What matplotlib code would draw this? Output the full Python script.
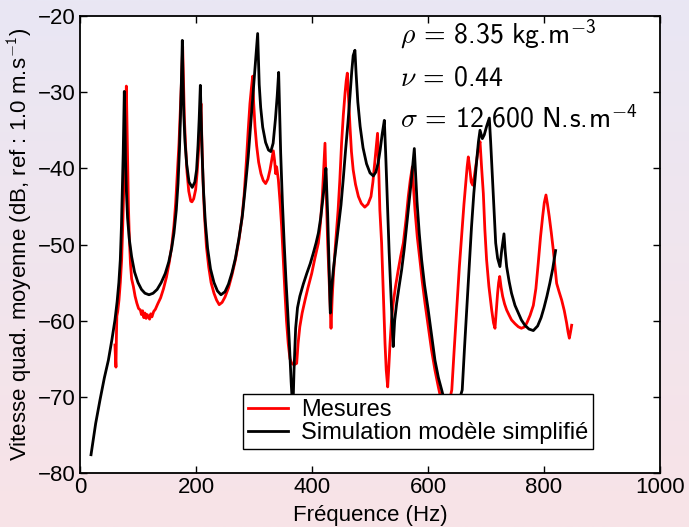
import numpy as np
import matplotlib
matplotlib.use("Agg")
import matplotlib.pyplot as plt

# simulation (modele simplifie): frequency (Hz) / level (dB)
sim_f = [19, 27, 34.5, 42, 48.9, 55, 60.3, 64, 67, 69.5, 71.5, 73, 74.5, 75.5, 76.4,
         77.5, 78.5, 80, 82, 85, 89, 94, 100, 106, 112, 119, 126, 133, 140, 147,
         153, 158, 162, 166, 169, 171.5, 173.5, 175, 176.4, 177.5, 179, 181, 184,
         188, 193.5, 198, 201, 203.5, 205.5, 207.5, 208.8, 210.5, 213, 216, 220,
         225, 231, 237, 243, 250, 256, 262, 268, 274, 280, 285, 290, 294, 298,
         301.5, 304, 306.3, 307.5, 309, 311.5, 315, 320, 325, 329, 333, 337, 340,
         342.5, 344, 346, 349, 352, 355, 358, 361, 364, 367, 369, 371.8, 375, 379,
         385, 391, 397, 402, 407, 411, 415, 418, 421, 424, 427, 429.5, 431.6,
         433.5, 436.8, 441, 445, 450, 454, 458, 462, 465.5, 468.5, 471, 474, 476,
         479, 483, 488, 494, 500, 505.7, 510, 514, 517.5, 521, 524.7, 527, 530,
         533, 536, 538, 540, 542.5, 546, 550, 554.6, 559, 563, 567, 570.7, 573.5,
         576.4, 578.5, 581, 585, 589, 594, 600, 606, 612, 618, 623.6, 640, 659,
         663, 666.7, 671, 675, 679, 684, 687, 689.7, 691.5, 693.7, 697, 701, 705.7,
         708, 711, 714, 716.7, 720, 724, 727, 731, 733, 735.6, 740, 744, 750,
         755.7, 761, 767, 774, 781.6, 789, 795, 800, 805, 810, 815, 820]
sim_db = [-77.6, -73.5, -70.4, -67.5, -65.2, -62.5, -59.9, -57.5, -55.0, -52.0,
          -47.5, -43.0, -38.0, -34.0, -29.9, -34.0, -39.0, -43.0, -46.5, -49.3,
          -51.6, -53.6, -55.0, -55.9, -56.4, -56.6, -56.4, -55.9, -55.0, -53.8,
          -52.3, -50.5, -48.5, -45.5, -42.0, -37.5, -32.5, -28.0, -23.2, -28.0,
          -33.0, -36.5, -39.5, -41.8, -42.5, -41.8, -40.2, -37.0, -33.5, -29.1,
          -33.0, -38.0, -43.0, -47.0, -50.5, -53.2, -55.0, -56.1, -56.6, -56.2,
          -55.2, -53.7, -51.8, -49.2, -46.2, -42.5, -38.5, -34.5, -30.5, -27.0,
          -24.5, -22.3, -25.5, -29.0, -32.0, -34.6, -36.6, -37.6, -37.8, -36.7,
          -33.5, -30.5, -27.4, -32.0, -38.0, -44.5, -49.8, -54.5, -58.6, -63.0,
          -68.0, -72.0, -66.5, -61.0, -58.3, -56.8, -55.2, -53.8, -52.5, -51.2,
          -49.8, -48.5, -46.5, -44.5, -42.5, -40.0, -46.0, -53.0, -59.0, -56.0,
          -53.3, -50.6, -48.1, -44.8, -41.3, -37.5, -34.0, -30.5, -27.3, -25.2,
          -24.5, -27.5, -31.3, -34.5, -37.3, -39.4, -40.6, -41.0, -40.5, -39.3,
          -37.6, -35.5, -33.7, -38.0, -44.5, -51.0, -56.4, -60.0, -63.4, -60.0,
          -57.7, -55.6, -53.3, -50.6, -47.7, -44.8, -42.0, -39.7, -37.4, -40.5,
          -44.3, -48.6, -52.0, -55.3, -58.4, -61.8, -65.2, -67.5, -69.1, -74.0,
          -69.1, -63.5, -58.6, -53.0, -47.7, -43.3, -38.9, -36.5, -35.0, -35.5,
          -36.1, -35.6, -34.5, -33.4, -36.5, -41.1, -45.8, -49.8, -51.8, -52.9,
          -50.8, -48.6, -50.8, -52.9, -54.9, -56.4, -58.0, -59.0, -59.9, -60.6,
          -61.1, -61.3, -60.7, -59.6, -58.3, -56.8, -55.1, -53.2, -50.8]

# mesures
mes_f = [60.3, 61.2, 62, 62.8, 63.5, 65, 67.2, 69.5, 71.8, 73.5, 75, 76.5, 78,
         79.9, 81, 82.2, 83.5, 85, 87, 89, 92, 95, 98, 101, 104, 106, 108, 110,
         112, 114, 116, 118, 120, 122, 124, 127, 130, 134, 139, 144, 149, 154,
         158, 162, 165, 168, 170.7, 173, 175, 177, 178.5, 180, 182, 184.5, 187.5,
         191, 193, 196, 199.4, 202, 204.5, 206.5, 208.6, 210, 212, 214.5, 218,
         222, 226, 231, 235.5, 240, 245, 250, 256, 262, 268, 274, 279, 283, 287,
         290, 293, 295.5, 297.7, 299.5, 301.7, 304.5, 308, 312, 316, 320, 324,
         327.6, 330.5, 333.3, 335.5, 337.4, 339, 342, 345, 347.7, 350.5, 353.4,
         356, 359, 362, 365, 369, 373.6, 376, 379, 383, 388, 393, 399.5, 405,
         411, 414.5, 417.8, 420.2, 422.4, 424.5, 427, 430, 432.8, 434.8, 436.8,
         440, 443, 445, 448, 451, 454, 457, 459, 460.9, 462.8, 465.5, 468, 471,
         475, 480, 485, 491, 496.5, 501.7, 505, 508.6, 511, 513, 515, 517, 520,
         523, 525.9, 528, 530.5, 532.5, 534.5, 537, 540, 544, 548.8, 553, 557.5,
         562, 566, 569.5, 573, 575, 577.6, 581.5, 586, 590, 594.8, 600, 606, 612,
         617.8, 630, 641, 645, 649.5, 654, 659, 662, 665, 667.5, 669.5, 672,
         674.5, 677, 680, 684, 687, 689.7, 692.5, 695.4, 698, 701, 705, 709.8,
         713, 715.5, 718, 720, 721.8, 723.6, 726, 728.7, 732, 735.6, 740, 744,
         750, 755.7, 761, 767, 771, 776, 781.6, 786, 790, 794, 797.7, 800.5,
         803.4, 806, 809, 812.5, 816, 819, 821.8, 826, 830.5, 835, 839, 841.5,
         843.7, 845.7, 847.7]
mes_db = [-63.2, -65.0, -66.1, -62.0, -59.4, -58.8, -57.3, -55.0, -52.0, -48.0,
          -44.0, -39.0, -34.5, -29.2, -34.0, -40.0, -45.0, -49.0, -52.5, -54.5,
          -55.5, -56.8, -57.7, -58.4, -58.6, -59.2, -58.7, -59.6, -59.0, -59.7,
          -59.2, -59.5, -59.8, -59.1, -59.5, -58.8, -58.5, -57.8, -57.0, -55.8,
          -54.3, -52.3, -50.3, -47.5, -44.5, -40.5, -36.7, -32.5, -28.5, -24.0,
          -29.0, -33.5, -37.0, -40.5, -43.0, -44.3, -44.4, -44.0, -42.8, -40.5,
          -37.5, -34.5, -31.5, -36.0, -41.5, -46.0, -50.3, -53.0, -55.0, -56.4,
          -57.3, -57.9, -57.6, -56.9, -55.7, -54.0, -52.0, -49.4, -46.7, -43.5,
          -38.9, -35.0, -31.5, -29.5, -27.9, -31.5, -34.5, -37.0, -39.2, -40.7,
          -41.6, -42.0, -41.4, -40.2, -38.9, -37.7, -39.0, -40.7, -39.8, -41.5,
          -44.5, -47.7, -52.0, -56.4, -60.0, -63.0, -65.0, -65.6, -65.8, -65.6,
          -63.0, -60.8, -59.0, -57.3, -55.7, -53.8, -51.8, -49.8, -47.2, -43.7,
          -40.0, -36.7, -43.0, -49.8, -55.5, -61.0, -57.0, -54.2, -50.5, -47.6,
          -45.5, -41.5, -36.7, -33.0, -30.1, -28.5, -27.5, -30.5, -34.5, -37.8,
          -40.2, -42.1, -43.7, -44.6, -45.1, -44.7, -43.7, -41.8, -38.9, -37.0,
          -35.4, -40.0, -45.5, -49.8, -56.5, -63.0, -66.5, -68.7, -66.0, -63.0,
          -60.0, -57.7, -55.5, -53.3, -51.5, -49.8, -46.8, -43.7, -41.5, -39.8,
          -42.5, -45.5, -49.0, -52.0, -54.8, -57.7, -60.5, -63.8, -66.5, -68.7,
          -73.0, -69.1, -64.0, -58.6, -53.0, -47.7, -44.7, -42.0, -39.8, -38.5,
          -40.0, -41.8, -42.2, -41.0, -38.9, -37.3, -36.5, -40.0, -43.3, -48.0,
          -52.0, -55.5, -58.6, -60.3, -61.0, -58.5, -56.4, -55.0, -54.2, -55.6,
          -56.8, -57.8, -58.6, -59.3, -59.9, -60.4, -60.8, -61.0, -60.8, -60.2,
          -59.3, -58.0, -55.8, -52.5, -49.0, -46.3, -44.5, -43.5, -44.7, -46.3,
          -48.4, -50.7, -53.0, -55.1, -56.2, -57.3, -58.7, -60.3, -61.5, -62.3,
          -61.5, -60.6]

params = [r"$\rho\,=\,8.35\ \mathrm{kg.\!m}^{-3}$",
          r"$\nu\,=\,0.44$",
          r"$\sigma\,=\,12\ 600\ \mathrm{N.\!s.\!m}^{-4}$"]

plt.rcParams["font.family"] = ["Liberation Sans", "DejaVu Sans"]
plt.rcParams["mathtext.fontset"] = "custom"
plt.rcParams["mathtext.rm"] = "cmss10"
plt.rcParams["mathtext.sf"] = "cmss10"
plt.rcParams["mathtext.it"] = "cmmi10"
plt.rcParams["mathtext.fallback"] = "cm"

fig = plt.figure(figsize=(6.89, 5.27), dpi=100)

# slide background: lavender at top fading to pink at bottom
bg = fig.add_axes([0, 0, 1, 1], zorder=-10)
top = np.array([233, 231, 244]) / 255
bot = np.array([248, 227, 231]) / 255
t = np.linspace(0, 1, 256)[:, None]
grad = (top * (1 - t) + bot * t)[:, None, :]
bg.imshow(grad, aspect="auto", extent=[0, 1, 0, 1])
bg.axis("off")

ax = fig.add_axes([80 / 689, 54 / 527, 580 / 689, 457 / 527])
ax.set_facecolor("white")
ax.plot(mes_f, mes_db, color="red", lw=2, label="Mesures")
ax.plot(sim_f, sim_db, color="black", lw=2, label="Simulation modèle simplifié")

ax.set_xlim(0, 1000)
ax.set_ylim(-80, -20)
ax.set_xticks([0, 200, 400, 600, 800, 1000])
ax.set_yticks([-80, -70, -60, -50, -40, -30, -20])
ax.tick_params(direction="in", top=True, right=True, length=5, width=1,
               labelsize=16, pad=3)
for s in ax.spines.values():
    s.set_linewidth(1.3)

ax.set_xlabel("Fréquence (Hz)", fontsize=16, labelpad=5)
ax.set_ylabel(r"Vitesse quad. moyenne (dB, ref : 1.0 m.s$^{\mathsf{-1}}$)",
              fontsize=16, labelpad=2)

for i, s in enumerate(params):
    ax.text(0.552, 0.94 - i * 0.0915, s, transform=ax.transAxes, fontsize=20,
            va="baseline", ha="left")

leg = ax.legend(loc="lower right", bbox_to_anchor=(0.884, 0.0525), fontsize=17,
                frameon=True, fancybox=False, framealpha=1, edgecolor="black",
                borderpad=0.2, labelspacing=0.05, handlelength=1.7,
                handletextpad=0.55, borderaxespad=0)
leg.get_frame().set_linewidth(1.0)

fig.savefig("out.png", dpi=100)
